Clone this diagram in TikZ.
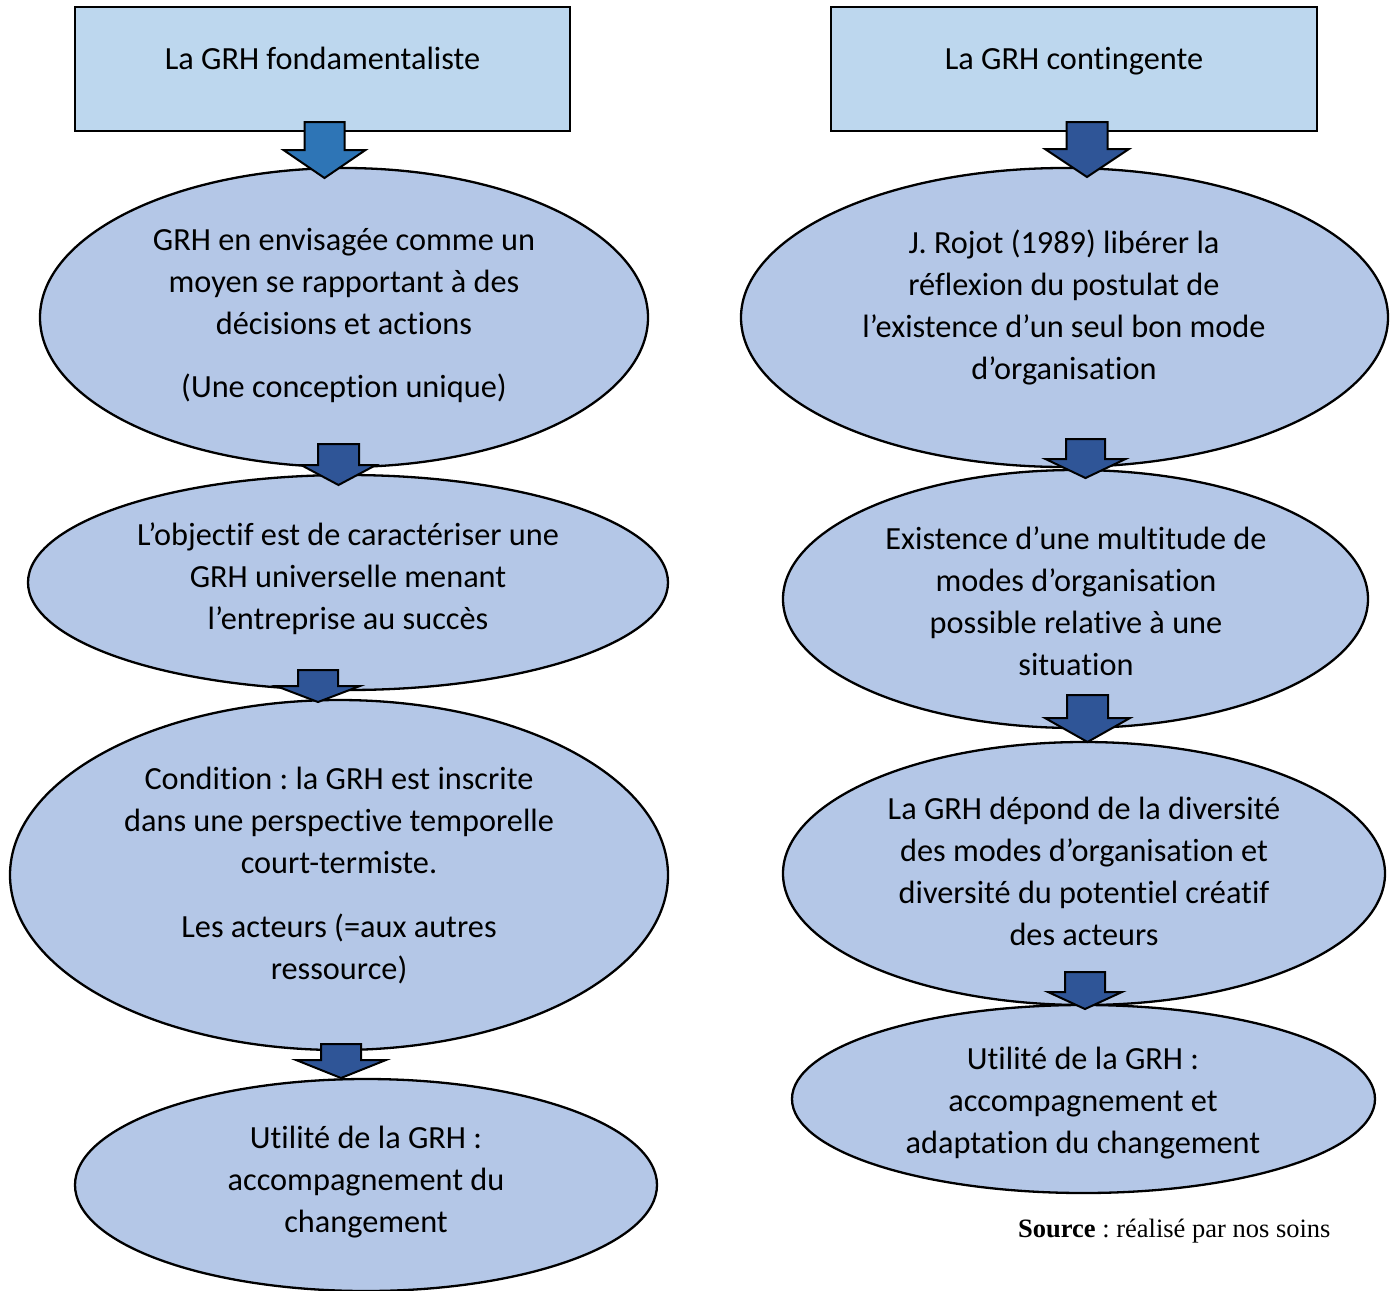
\documentclass[tikz,border=0pt]{standalone}
\usepackage{fontspec}
\setmainfont{Carlito}[RawFeature={-liga;-clig;-calt}]
\newfontfamily\srcfont{Liberation Serif}
\usetikzlibrary{shapes.geometric}
\frenchspacing

\definecolor{boxfill}{HTML}{BDD7EE}
\definecolor{ellfill}{HTML}{B4C7E7}
\definecolor{arrowlight}{HTML}{2E75B6}
\definecolor{arrowdark}{HTML}{2F5597}

\tikzset{
  headbox/.style={draw=black, line width=2.3pt, fill=boxfill, rectangle, inner sep=0pt},
  bubble/.style={draw=black, line width=2.3pt, fill=ellfill, ellipse, inner sep=0pt},
  txt/.style={align=center, font=\fontsize{32.3}{42}\selectfont, inner sep=0pt},
  blockarrow/.style={draw=black, line width=2pt, line join=miter, fill=arrowdark},
}

% downward block arrow: #1 style, #2 centre x, #3 top y, #4 head y, #5 tip y,
% #6 half width of the shaft, #7 half width of the head
\newcommand\blockdown[7]{%
  \draw[blockarrow,#1] (#2-#6,#3) -- (#2+#6,#3) -- (#2+#6,#4) -- (#2+#7,#4)
    -- (#2,#5) -- (#2-#7,#4) -- (#2-#6,#4) -- cycle;}

\begin{document}
\begin{tikzpicture}[x=1pt, y=-1pt]
\useasboundingbox (0,0) rectangle (1393,1291);

% header boxes
\node[headbox, minimum width=495pt, minimum height=124pt] (fond) at (322.5,69) {};
\node[txt, anchor=base] (fondT) at (322.5,69) {La GRH fondamentaliste};
\node[headbox, minimum width=486pt, minimum height=124pt] (cont) at (1074,69) {};
\node[txt, anchor=base] (contT) at (1074,69) {La GRH contingente};

% left column
\node[bubble, minimum width=608pt, minimum height=299pt] (l1) at (344,317.5) {};
\node[bubble, minimum width=640pt, minimum height=215pt] (l2) at (348,582.5) {};
\node[bubble, minimum width=658pt, minimum height=350pt] (l3) at (339,875) {};
\node[bubble, minimum width=582pt, minimum height=212pt] (l4) at (366,1185) {};

% right column
\node[bubble, minimum width=647pt, minimum height=299pt] (r1) at (1064.5,317.5) {};
\node[bubble, minimum width=585pt, minimum height=258pt] (r2) at (1075.5,599) {};
\node[bubble, minimum width=602pt, minimum height=263pt] (r3) at (1084,873.5) {};
\node[bubble, minimum width=583pt, minimum height=188pt] (r4) at (1083.5,1099) {};

% texts of the left column
\node[txt] (l1T) at (344,315) {GRH en envisagée comme un\\moyen se rapportant à des\\décisions et actions\\[21pt](Une conception unique)};
\node[txt] (l2T) at (348,579) {L’objectif est de caractériser une\\GRH universelle menant\\l’entreprise au succès};
\node[txt] (l3T) at (339,876) {Condition : la GRH est inscrite\\dans une perspective temporelle\\court-termiste.\\[22pt]Les acteurs (=aux autres\\ressource)};
\node[txt] (l4T) at (366,1182) {Utilité de la GRH :\\accompagnement du\\changement};

% texts of the right column
\node[txt] (r1T) at (1064,307.5) {J. Rojot (1989) libérer la\\réflexion du postulat de\\l’existence d’un seul bon mode\\d’organisation};
\node[txt] (r2T) at (1076,601) {Existence d’une multitude de\\modes d’organisation\\possible relative à une\\situation};
\node[txt] (r3T) at (1084,871) {La GRH dépond de la diversité\\des modes d’organisation et\\diversité du potentiel créatif\\des acteurs};
\node[txt] (r4T) at (1083,1103) {Utilité de la GRH :\\accompagnement et\\adaptation du changement};

% block arrows between the stages
\blockdown{fill=arrowlight}{324.5}{122}{150}{178}{20}{41}
\blockdown{}{1087}{122}{149}{177}{20.5}{42}
\blockdown{}{338.5}{444}{465}{485}{20.5}{37.5}
\blockdown{}{318}{670}{686}{702}{20}{42}
\blockdown{}{341}{1044}{1060}{1078}{20}{45}
\blockdown{}{1085.5}{439}{459}{478}{19.5}{40}
\blockdown{}{1087.5}{695}{718}{742}{20.5}{42.5}
\blockdown{}{1085}{972}{992}{1009}{20}{37}

% source line
\node[anchor=west, inner sep=0pt, font=\srcfont\fontsize{26.5}{30}\selectfont] (src) at (1018,1231) {\textbf{Source} : réalisé par nos soins};
\end{tikzpicture}
\end{document}
